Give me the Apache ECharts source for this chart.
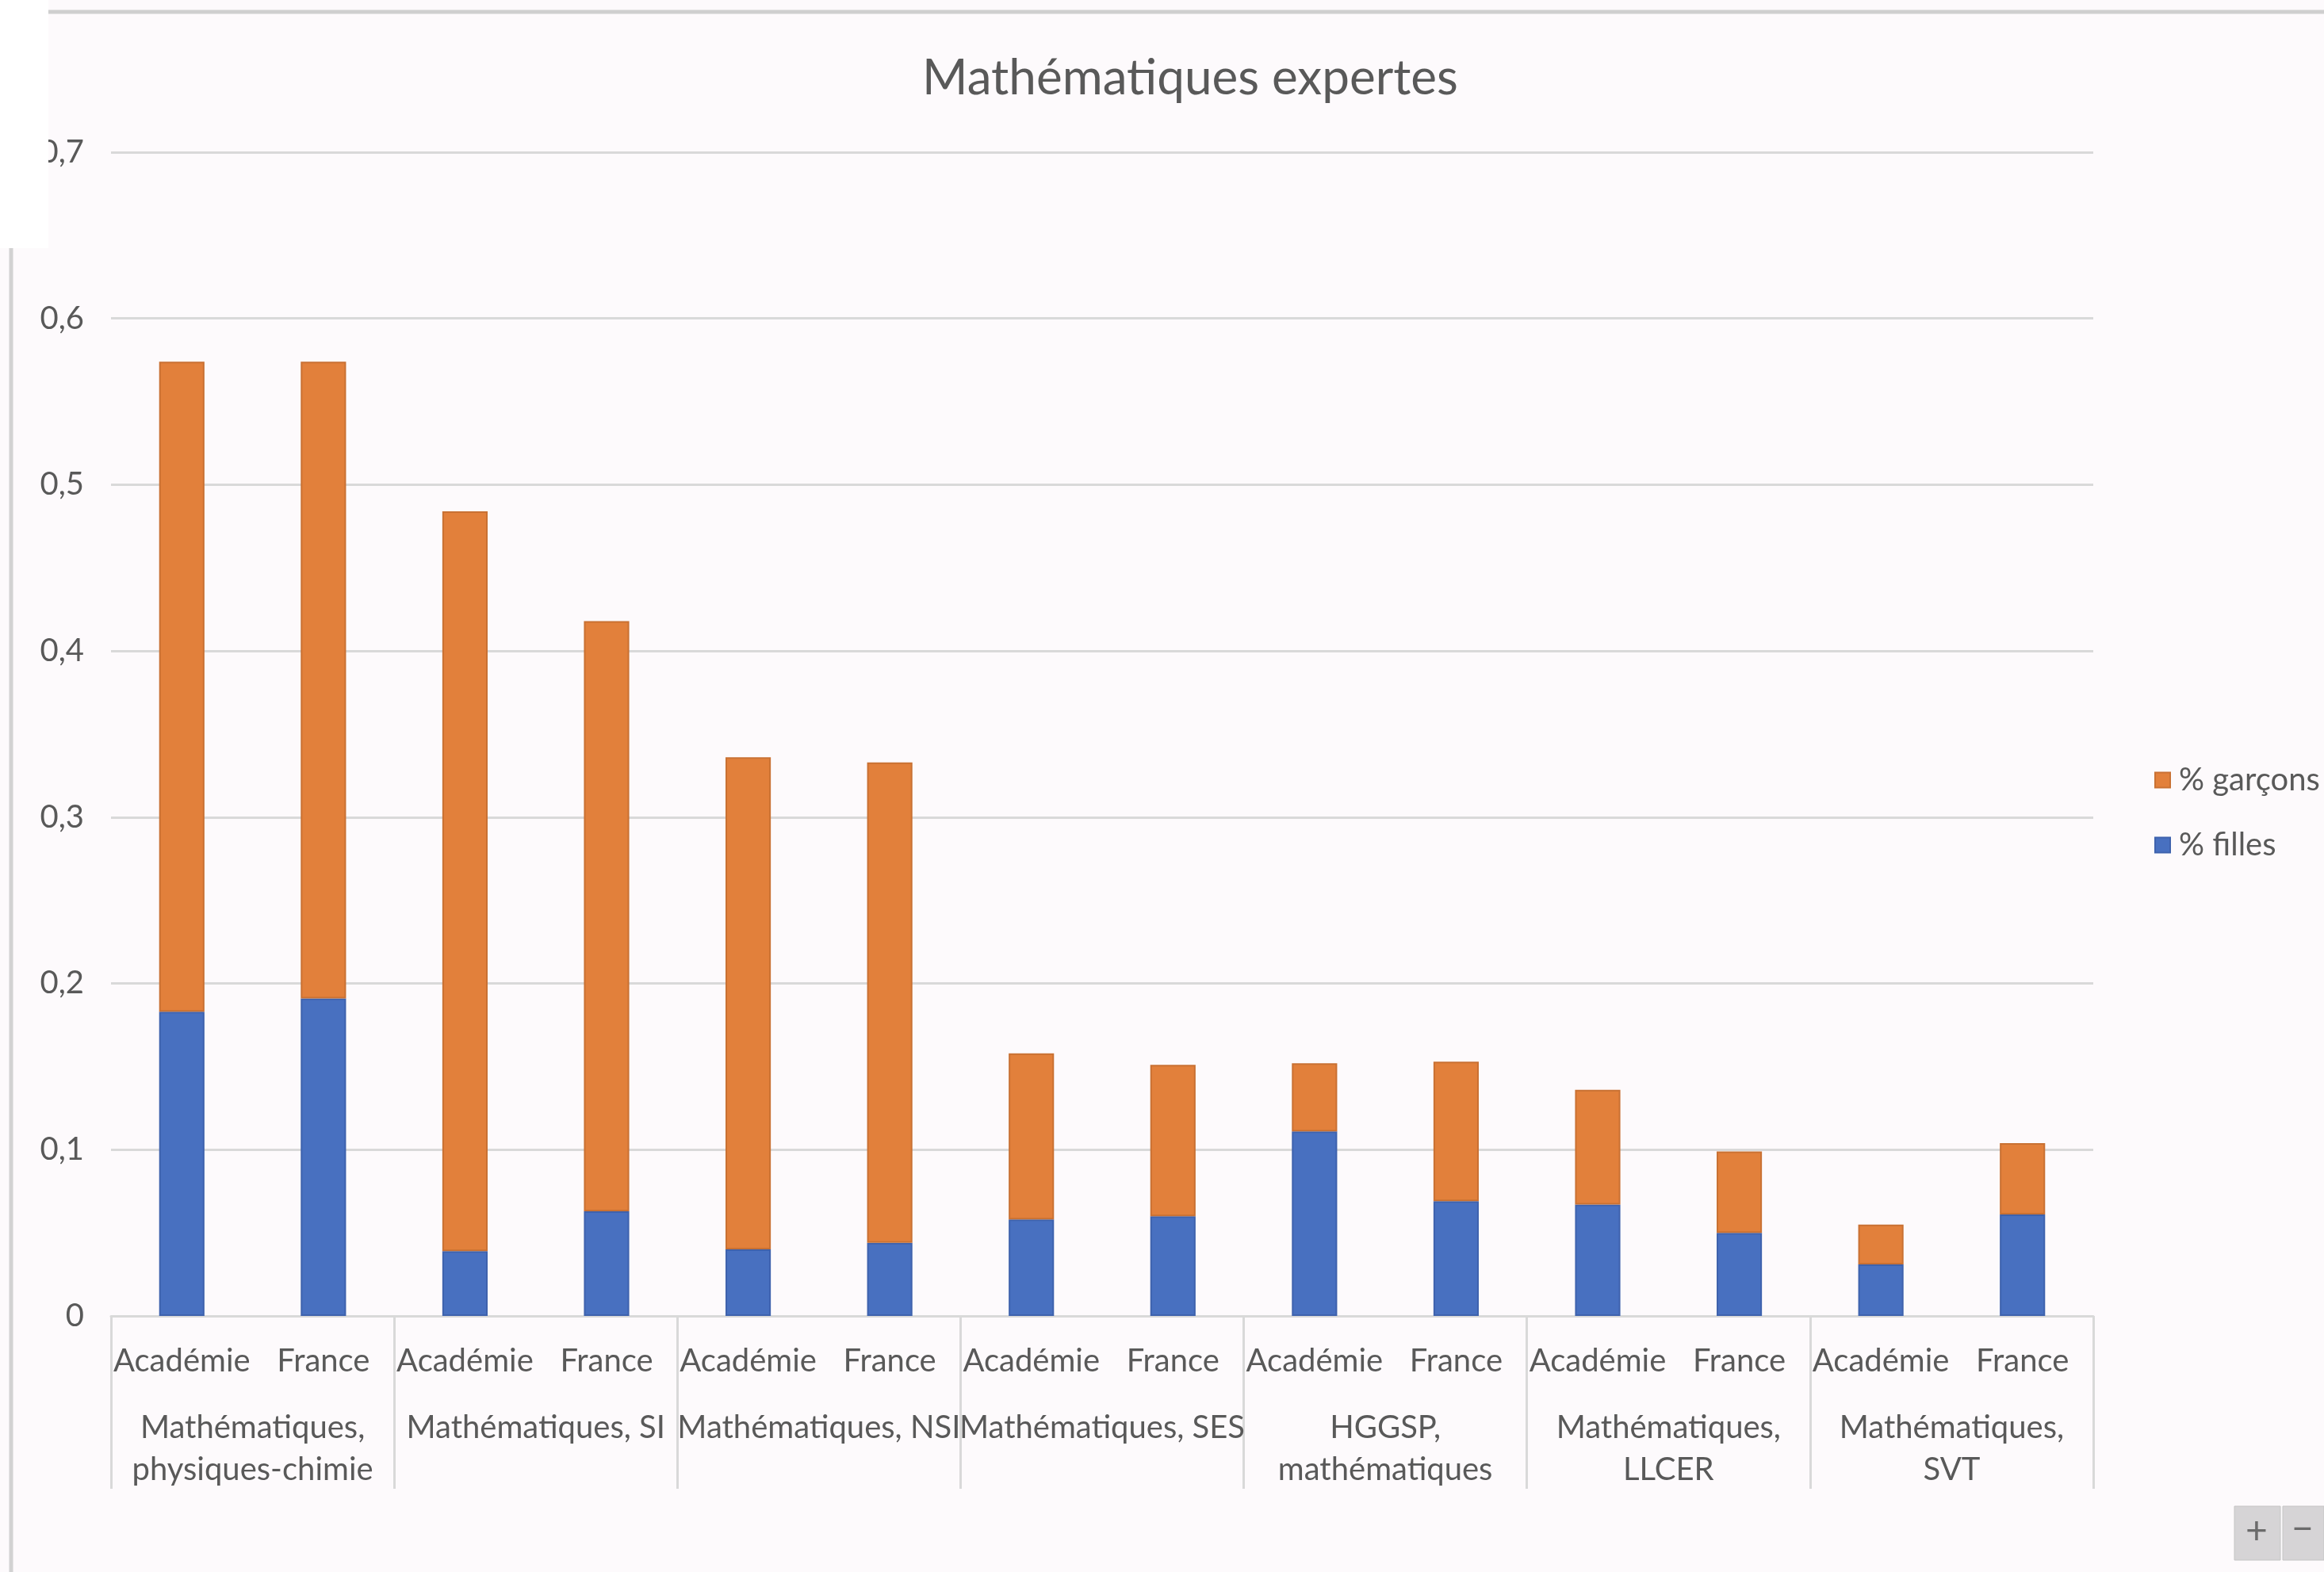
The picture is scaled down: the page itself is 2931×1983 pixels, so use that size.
<!DOCTYPE html>
<html lang="fr">
<head>
<meta charset="utf-8">
<title>Mathématiques expertes</title>
<script src="https://cdn.jsdelivr.net/npm/echarts@6/dist/echarts.min.js"></script>
<style>
  html, body { margin: 0; padding: 0; background: #fdfafc; }
  #chart { width: 2931px; height: 1983px; }
</style>
</head>
<body>
<div id="chart"></div>
<script>
// Sous-catégories (Académie / France) pour chaque doublette de spécialités
const subCategories = [
  'Académie', 'France', 'Académie', 'France', 'Académie', 'France', 'Académie', 'France',
  'Académie', 'France', 'Académie', 'France', 'Académie', 'France'
];
// Doublettes de spécialités suivies avec Mathématiques expertes
const groups = [
  'Mathématiques,\nphysiques-chimie',
  'Mathématiques, SI',
  'Mathématiques, NSI',
  'Mathématiques, SES',
  'HGGSP,\nmathématiques',
  'Mathématiques,\nLLCER',
  'Mathématiques,\nSVT'
];
// Part des filles
const filles = [0.183, 0.191, 0.039, 0.063, 0.040, 0.044, 0.058, 0.060, 0.111, 0.069, 0.067, 0.050, 0.031, 0.061];
// Part des garçons (empilée au-dessus des filles)
const garcons = [0.391, 0.383, 0.445, 0.355, 0.296, 0.289, 0.100, 0.091, 0.041, 0.084, 0.069, 0.049, 0.024, 0.043];
// Graduations de l'axe des valeurs
const yMin = 0, yMax = 0.7, yStep = 0.1;

const FONT = 'Lato, "Open Sans", sans-serif';
const GREY_TEXT = '#595959';
const GRID_LINE = '#d9d9d9';

const chart = echarts.init(document.getElementById('chart'), null, { renderer: 'canvas' });

chart.setOption({
  backgroundColor: '#fdfafc',
  animation: false,
  title: {
    text: 'Mathématiques expertes',
    left: 1496,
    top: 63,
    textAlign: 'center',
    textStyle: { fontFamily: FONT, fontSize: 62, fontWeight: 'normal', color: GREY_TEXT }
  },
  legend: {
    orient: 'vertical',
    left: 2712,
    top: 958,
    itemWidth: 19,
    itemHeight: 19,
    itemGap: 40,
    icon: 'rect',
    data: ['% garçons', '% filles'],
    textStyle: { fontFamily: FONT, fontSize: 40, color: GREY_TEXT, lineHeight: 42, padding: [0, 0, 0, 6] }
  },
  grid: { left: 140, right: 291, top: 192, bottom: 323, containLabel: false },
  xAxis: [
    {
      type: 'category',
      position: 'bottom',
      data: subCategories,
      axisLine: { show: true, lineStyle: { color: GRID_LINE, width: 3 } },
      axisTick: { show: false },
      axisLabel: { interval: 0, margin: 37, fontFamily: FONT, fontSize: 40, color: GREY_TEXT }
    },
    {
      type: 'category',
      position: 'bottom',
      data: groups,
      axisLine: { show: false },
      axisTick: { show: true, interval: 0, length: 218, lineStyle: { color: GRID_LINE, width: 3 } },
      axisLabel: { interval: 0, margin: 115, fontFamily: FONT, fontSize: 40, lineHeight: 53, color: GREY_TEXT }
    }
  ],
  yAxis: {
    type: 'value',
    min: yMin,
    max: yMax,
    interval: yStep,
    axisLine: { show: false },
    axisTick: { show: false },
    splitLine: { lineStyle: { color: GRID_LINE, width: 3 } },
    axisLabel: {
      margin: 34,
      fontFamily: FONT,
      fontSize: 40,
      color: GREY_TEXT,
      formatter: v => (v === 0 ? '0' : v.toFixed(1).replace('.', ','))
    }
  },
  series: [
    {
      name: '% filles',
      type: 'bar',
      stack: 'total',
      xAxisIndex: 0,
      barWidth: '32%',
      data: filles,
      itemStyle: { color: '#4870c0', borderColor: '#3e62ad', borderWidth: 2 }
    },
    {
      name: '% garçons',
      type: 'bar',
      stack: 'total',
      xAxisIndex: 0,
      barWidth: '32%',
      data: garcons,
      itemStyle: { color: '#e2803b', borderColor: '#c97133', borderWidth: 2 }
    }
  ],
  graphic: [
    // cadre de la fenêtre
    { type: 'line', z: 90, shape: { x1: 61, y1: 15, x2: 2931, y2: 15 }, style: { stroke: '#cfcfcf', lineWidth: 5 } },
    { type: 'line', z: 90, shape: { x1: 14, y1: 313, x2: 14, y2: 1983 }, style: { stroke: '#d2d2d2', lineWidth: 5 } },
    { type: 'rect', z: 100, shape: { x: 0, y: 0, width: 61, height: 313 }, style: { fill: '#ffffff' } },
    // boutons de zoom
    { type: 'rect', z: 100, shape: { x: 2818, y: 1900, width: 58, height: 68 }, style: { fill: '#d6d4d6', stroke: '#c4c4c4', lineWidth: 1 } },
    { type: 'rect', z: 100, shape: { x: 2879, y: 1900, width: 52, height: 68 }, style: { fill: '#d6d4d6', stroke: '#c4c4c4', lineWidth: 1 } },
    { type: 'text', z: 101, left: 2832, top: 1908, style: { text: '+', fontSize: 48, fontFamily: FONT, fill: '#6b6b6b' } },
    { type: 'text', z: 101, left: 2890, top: 1906, style: { text: '−', fontSize: 48, fontFamily: FONT, fill: '#6b6b6b' } }
  ]
});
</script>
</body>
</html>
